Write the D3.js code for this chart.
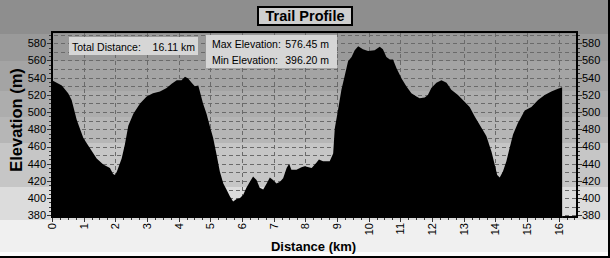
<!DOCTYPE html>
<html lang="en">
	<head>
		<meta charset="utf-8">
		<title>Trail Profile</title>
		<script type="text/javascript" src="https://cdn.jsdelivr.net/npm/d3@7/dist/d3.min.js"></script>
		<style type="text/css">
			body { margin: 0; background: #ffffff; }
			svg { display: block; }
			text { font-family: "Liberation Sans", Arial, sans-serif; fill: #000; }
			.grid line { stroke: #6a6a6a; stroke-width: 1; stroke-dasharray: 4,3; shape-rendering: crispEdges; }
			.tick-mark { stroke: #333; shape-rendering: crispEdges; }
		</style>
	</head>
	<body>
		<script type="text/javascript">

			//SVG width and height
			var w = 610;
			var h = 258;

			//Plot area
			var plotLeft = 52, plotRight = 577, plotTop = 32, plotBottom = 218;

			//Profile data (distance km / elevation m)
			var distKm = [0, 0.31, 0.51, 0.62, 0.78, 0.88, 0.99, 1.2, 1.41, 1.62, 1.83, 1.93, 1.99, 2.05, 2.2, 2.3, 2.41,
				2.57, 2.78, 2.99, 3.19, 3.41, 3.62, 3.78, 3.94, 4.09, 4.2, 4.3, 4.41, 4.51, 4.62, 4.67, 4.77, 4.88, 4.99,
				5.09, 5.2, 5.3, 5.41, 5.51, 5.62, 5.72, 5.83, 5.93, 6.04, 6.14, 6.25, 6.35, 6.46, 6.56, 6.67, 6.78, 6.88,
				6.98, 7.09, 7.2, 7.3, 7.41, 7.49, 7.56, 7.72, 7.88, 7.98, 8.2, 8.35, 8.43, 8.56, 8.77, 8.88, 8.93, 9.03,
				9.14, 9.25, 9.35, 9.46, 9.56, 9.67, 9.82, 9.98, 10.19, 10.35, 10.45, 10.56, 10.67, 10.77, 10.88, 11.04,
				11.19, 11.35, 11.51, 11.61, 11.77, 11.87, 11.98, 12.14, 12.3, 12.46, 12.61, 12.82, 13.03, 13.19, 13.35,
				13.51, 13.61, 13.72, 13.88, 13.98, 14.06, 14.14, 14.24, 14.35, 14.45, 14.56, 14.71, 14.93, 15.14, 15.35,
				15.56, 15.77, 15.98, 16.11];
			var elevM = [537, 531, 522, 514, 491, 481, 470, 458, 446, 439, 435, 428, 427, 431, 446, 462, 484,
				498, 510, 518, 522, 524, 528, 533, 537, 537, 541, 539, 534, 530, 531, 524, 510, 498, 483,
				470, 450, 431, 417, 410, 402, 396.2, 399, 400, 404, 412, 419, 425, 421, 412, 410, 417, 424,
				421, 417, 419, 423, 435, 440, 433, 433, 436, 437, 435, 441, 445, 443, 443, 452, 481, 502,
				526, 543, 559, 564, 572, 576.45, 573, 571, 572, 576, 573, 564, 561, 561, 551, 539,
				530, 522, 518, 516, 517, 520, 528, 534, 537, 534, 526, 520, 512, 506, 495,
				485, 479, 472, 454, 439, 427, 424, 431, 443, 458, 474, 487, 502, 506, 514,
				520, 524, 527, 529];

			//Axis ticks and labels
			var yLabelTicks = [380, 400, 420, 440, 460, 480, 500, 520, 540, 560, 580];
			var yGridTicks = d3.range(380, 591, 10);
			var xLabelTicks = d3.range(0, 17, 1);
			var xMinorTicks = d3.range(0, 16.6, 0.25);
			var yMinorTicks = d3.range(380, 591, 5);

			//Summary text
			var totalDistance = "16.11 km";
			var maxElevation = "576.45 m";
			var minElevation = "396.20 m";

			//Background bands (top edge, bottom edge, colour)
			var bandTops = [0, 34, 61, 91, 117, 143, 187, 220, 252];
			var bandBottoms = [34, 61, 91, 117, 143, 187, 220, 252, 256];
			var bandColours = ["#8e8e8e", "#9a9a9a", "#a4a4a4", "#adadad", "#b6b6b6", "#c6c6c6", "#dcdcdc", "#f0f0f0", "#fcfcfc"];

			var data = distKm.map(function(d, i) { return [d, elevM[i]]; });

			// Scales
			var xScale = d3.scaleLinear()
								.domain([0, 16.58])
								.range([plotLeft, plotRight]);

			var yScale = d3.scaleLinear()
								.domain([376.9, 593.1])
								.range([plotBottom, plotTop]);

			var svg = d3.select("body")
						.append("svg")
						.attr("width", w)
						.attr("height", h);

			// background bands
			svg.selectAll("rect.band")
				.data(bandColours)
				.enter()
				.append("rect")
				.attr("class", "band")
				.attr("x", 0)
				.attr("y", function(d, i) { return bandTops[i]; })
				.attr("width", w)
				.attr("height", function(d, i) { return bandBottoms[i] - bandTops[i]; })
				.attr("fill", function(d) { return d; });

			// outer border (bottom + right)
			svg.append("rect").attr("x", 0).attr("y", 256).attr("width", w).attr("height", 2).attr("fill", "#000");
			svg.append("rect").attr("x", 608).attr("y", 0).attr("width", 2).attr("height", h).attr("fill", "#000");

			// grid lines
			var grid = svg.append("g").attr("class", "grid");
			grid.selectAll("line.h")
				.data(yGridTicks)
				.enter()
				.append("line")
				.attr("class", "h")
				.attr("x1", plotLeft + 2)
				.attr("x2", plotRight - 1)
				.attr("y1", function(d) { return Math.round(yScale(d)) + 0.5; })
				.attr("y2", function(d) { return Math.round(yScale(d)) + 0.5; });
			grid.selectAll("line.v")
				.data(xLabelTicks.filter(function(d) { return d > 0; }))
				.enter()
				.append("line")
				.attr("class", "v")
				.attr("x1", function(d) { return Math.round(xScale(d)) + 0.5; })
				.attr("x2", function(d) { return Math.round(xScale(d)) + 0.5; })
				.attr("y1", plotTop + 1)
				.attr("y2", plotBottom - 1);

			// elevation area
			var area = d3.area()
						.x(function(d) { return xScale(d[0]); })
						.y0(plotBottom)
						.y1(function(d) { return yScale(d[1]); });

			svg.append("path")
				.datum(data)
				.attr("d", area)
				.attr("fill", "#000");

			// frame
			svg.append("path")
				.attr("d", "M" + plotLeft + "," + plotBottom + "V" + plotTop + "H" + plotRight + "V" + (plotBottom - 1) + "H" + xScale(16.11))
				.attr("fill", "none")
				.attr("stroke", "#000")
				.attr("stroke-width", 2);

			// y ticks, left and right
			[plotLeft - 1, plotRight + 1].forEach(function(ax, side) {
				var dir = side === 0 ? -1 : 1;
				svg.selectAll(null)
					.data(yMinorTicks)
					.enter()
					.append("line")
					.attr("class", "tick-mark")
					.attr("x1", ax)
					.attr("x2", function(d) { return ax + dir * (d % 20 === 0 ? 4 : 2); })
					.attr("y1", function(d) { return Math.round(yScale(d)) + 0.5; })
					.attr("y2", function(d) { return Math.round(yScale(d)) + 0.5; });
				svg.selectAll(null)
					.data(yLabelTicks)
					.enter()
					.append("text")
					.attr("x", side === 0 ? plotLeft - 6 : plotRight + 5)
					.attr("y", function(d) { return yScale(d); })
					.attr("dy", "0.36em")
					.attr("text-anchor", side === 0 ? "end" : "start")
					.style("font-size", "11px")
					.text(function(d) { return d; });
			});

			// x ticks
			svg.selectAll(null)
				.data(xMinorTicks)
				.enter()
				.append("line")
				.attr("class", "tick-mark")
				.attr("x1", function(d) { return Math.round(xScale(d)) + 0.5; })
				.attr("x2", function(d) { return Math.round(xScale(d)) + 0.5; })
				.attr("y1", plotBottom)
				.attr("y2", function(d) { return plotBottom + (d % 1 === 0 ? 4 : 2); });

			svg.selectAll(null)
				.data(xLabelTicks)
				.enter()
				.append("text")
				.attr("transform", function(d) { return "translate(" + xScale(d) + "," + (plotBottom + 5) + ") rotate(-90)"; })
				.attr("dy", "0.36em")
				.attr("text-anchor", "end")
				.style("font-size", "11px")
				.text(function(d) { return d; });

			// axis titles
			svg.append("text")
				.attr("transform", "translate(16,120) rotate(-90)")
				.attr("dy", "0.36em")
				.attr("text-anchor", "middle")
				.style("font-size", "16.5px")
				.style("font-weight", "bold")
				.text("Elevation (m)");

			svg.append("text")
				.attr("x", 313.5)
				.attr("y", 250.5)
				.attr("text-anchor", "middle")
				.style("font-size", "13px")
				.style("font-weight", "bold")
				.text("Distance (km)");

			// title box
			svg.append("rect")
				.attr("x", 258).attr("y", 7).attr("width", 94).attr("height", 18)
				.attr("fill", "#cfcfcf").attr("stroke", "#000").attr("stroke-width", 2);
			svg.append("text")
				.attr("x", 305).attr("y", 21)
				.attr("text-anchor", "middle")
				.style("font-size", "14.5px")
				.style("font-weight", "bold")
				.text("Trail Profile");

			// summary boxes
			svg.append("rect")
				.attr("x", 69).attr("y", 37).attr("width", 129).attr("height", 18)
				.attr("fill", "#d6d6d6");
			svg.append("text").attr("x", 72).attr("y", 50.5).style("font-size", "10.5px").text("Total Distance:");
			svg.append("text").attr("x", 195).attr("y", 50.5).attr("text-anchor", "end").style("font-size", "10.5px").text(totalDistance);

			svg.append("rect")
				.attr("x", 206).attr("y", 35).attr("width", 131).attr("height", 33)
				.attr("fill", "#d6d6d6");
			svg.append("text").attr("x", 212).attr("y", 47.5).style("font-size", "10.5px").text("Max Elevation:");
			svg.append("text").attr("x", 329).attr("y", 47.5).attr("text-anchor", "end").style("font-size", "10.5px").text(maxElevation);
			svg.append("text").attr("x", 212).attr("y", 63.5).style("font-size", "10.5px").text("Min Elevation:");
			svg.append("text").attr("x", 329).attr("y", 63.5).attr("text-anchor", "end").style("font-size", "10.5px").text(minElevation);

		</script>
	</body>
</html>
